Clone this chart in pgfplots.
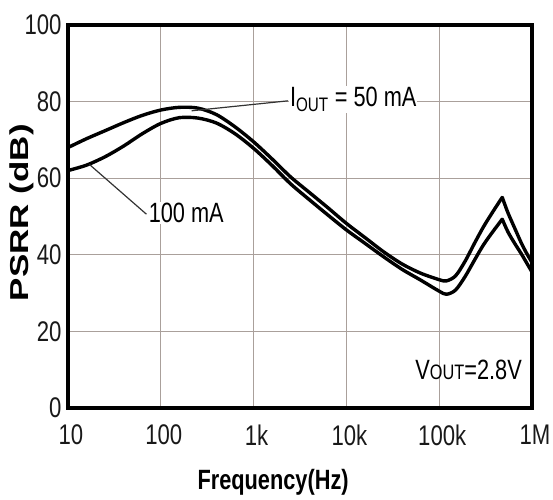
\documentclass[border=0pt]{standalone}
\usepackage{pgfplots}
\pgfplotsset{compat=1.18}
\usepackage{fontspec}
\setmainfont{Liberation Sans}[FakeStretch=0.78]
\newfontfamily\widefont{Liberation Sans}[FakeStretch=1.35]
\definecolor{gridc}{RGB}{170,160,155}

% I_OUT = 50 mA, rising part up to the resonance peak
\pgfplotstableread{
f       psrr
10      68
15.8    70.3
25.1    72.4
39.8    74.5
63.1    76.4
100     77.8
158     78.5
251     78.3
398     76.6
631     73.4
1000    69.5
1585    65
2512    60.3
3981    56.3
6310    52.3
10000   48.2
15850   44.5
25120   40.8
39810   37.6
63100   35.2
100000  33.5
120000  33.2
150000  34.5
190000  38.3
240000  43
300000  47.3
380000  51.3
478000  55
}\upperA
\pgfplotstableread{
f       psrr
478000  55
550000  51
650000  47
770000  43
880000  40.3
1000000 38
}\upperB
% I_OUT = 100 mA
\pgfplotstableread{
f       psrr
10      62
15.8    63.4
25.1    65.6
39.8    68.4
63.1    71.6
100     74.3
158     75.8
251     75.7
398     74.4
631     71.6
1000    67.8
1585    63.3
2512    58.5
3981    54.4
6310    50.4
10000   46.5
15850   43
25120   39.5
39810   36.2
63100   33.4
100000  30.5
120000  29.7
150000  30.8
190000  34.3
240000  38.6
300000  42.6
380000  46.1
478000  49.3
}\lowerA
\pgfplotstableread{
f       psrr
478000  49.3
550000  46
650000  43
770000  40.2
880000  37.8
1000000 35.5
}\lowerB

\begin{document}
\begin{tikzpicture}
\begin{axis}[
  at={(0,0)}, anchor=south west,
  width=464bp, height=383bp, scale only axis,
  xmode=log, log basis x=10,
  xmin=10, xmax=1000000, ymin=0, ymax=100,
  xtick={10,100,1000,10000,100000,1000000},
  xticklabels={10,100,1k,10k,100k,1M},
  ytick={0,20,40,60,80,100},
  grid=major,
  major grid style={gridc, line width=1.3bp},
  axis line style={line width=3.2bp, black},
  major tick length=0pt, minor tick length=0pt,
  /pgf/number format/assume math mode=true,
  tick label style={font=\fontsize{28.5}{28.5}\selectfont, text=black!90},
  xticklabel style={yshift=-13bp, xshift=3bp},
  yticklabel style={xshift=-3bp},
  xlabel={Frequency(Hz)},
  ylabel={PSRR (dB)},
  xlabel style={font=\fontsize{28}{28}\selectfont\bfseries,
    at={(axis description cs:0.442,-0.193)}, anchor=center},
  ylabel style={font=\fontsize{26}{26}\selectfont\widefont\bfseries,
    at={(axis description cs:-0.1,0.51)}, anchor=center},
]
\addplot[black, line width=3.4bp, smooth, line cap=round] table[x=f, y=psrr] {\upperA};
\addplot[black, line width=3.4bp, smooth, line cap=round] table[x=f, y=psrr] {\upperB};
\addplot[black, line width=3.4bp, smooth, line cap=round] table[x=f, y=psrr] {\lowerA};
\addplot[black, line width=3.4bp, smooth, line cap=round] table[x=f, y=psrr] {\lowerB};

\draw[black!80, line width=1.2bp] (axis cs:215,77.6) -- (axis cs:2350,80.2);
\draw[black!80, line width=1.2bp] (axis cs:17,63.6) -- (axis cs:70,50.6);
\node[fill=white, inner sep=1bp, anchor=west, font=\fontsize{28}{28}\selectfont]
  at (axis cs:2400,80.5) {I\textsubscript{OUT} = 50 mA};
\node[fill=white, inner sep=1bp, anchor=west, font=\fontsize{28}{28}\selectfont]
  at (axis cs:72,51) {100 mA};
\node[anchor=east, inner sep=0pt, font=\fontsize{28}{28}\selectfont]
  at (axis cs:780000,10) {V{\fontsize{21}{21}\selectfont OUT}=2.8V};
\end{axis}
\pgfresetboundingbox
\path[use as bounding box] (-68bp,-92bp) rectangle (485bp,408bp);
\end{tikzpicture}
\end{document}
